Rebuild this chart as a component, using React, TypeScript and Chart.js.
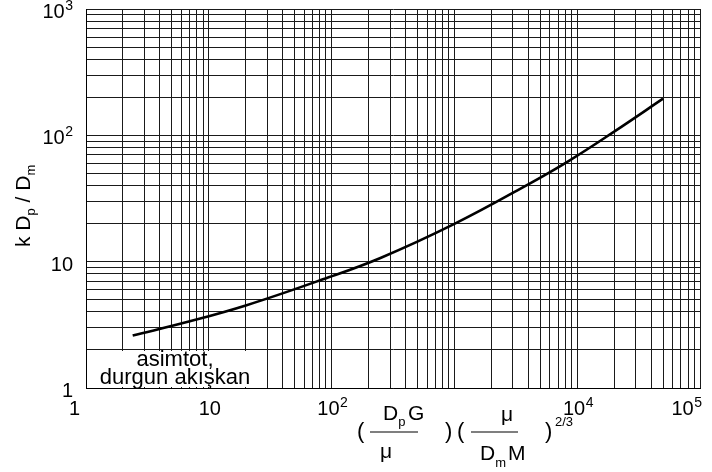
import React, { useEffect, useRef } from "react";
import { Chart, registerables } from "chart.js";

Chart.register(...registerables);

// Correlation curve: k·Dp/Dm against (Dp·G/μ)(μ/(Dm·M))^(2/3)
const xValues = [2.4, 7, 20, 85, 250, 1000, 4100, 8700, 20000, 50000];
const kValues = [2.6, 3.37, 4.5, 7.25, 10.7, 19.9, 41.5, 63.4, 107, 195];

const xMin = 1;
const xMax = 1e5;
const yMin = 1;
const yMax = 1e3;

// Axis labels: [mantissa, exponent]
const xTickValues = [1, 10, 100, 10000, 100000];
const xTickLabels = [["1", ""], ["10", ""], ["10", "2"], ["10", "4"], ["10", "5"]];
const yTickValues = [1, 10, 100, 1000];
const yTickLabels = [["1", ""], ["10", ""], ["10", "2"], ["10", "3"]];

// Stagnant-fluid asymptote and its note
const asymptoteValue = 2;
const noteLines = ["asimtot,", "durgun akışkan"];

const FAMILY = '"Liberation Sans", Arial, Helvetica, sans-serif';
const font = (px: number) => `${px}px ${FAMILY}`;

// every 1..9 × 10^n between min and max, for the log grid
function logGrid(min: number, max: number) {
  const out: { value: number }[] = [];
  for (let e = Math.round(Math.log10(min)); e < Math.round(Math.log10(max)); e++) {
    for (let s = 1; s <= 9; s++) out.push({ value: s * Math.pow(10, e) });
  }
  out.push({ value: max });
  return out;
}

type Run = { t: string; size: number; dy?: number; gap?: number };

// draws a sequence of text runs left-to-right from (x, y baseline)
function drawRuns(ctx: CanvasRenderingContext2D, runs: Run[], x: number, y: number) {
  let cx = x;
  for (const r of runs) {
    cx += r.gap || 0;
    ctx.font = font(r.size);
    ctx.fillText(r.t, cx, y + (r.dy || 0));
    cx += ctx.measureText(r.t).width;
  }
  return cx;
}

function drawPower(
  ctx: CanvasRenderingContext2D,
  base: string,
  exp: string,
  x: number,
  y: number,
  align: "left" | "center" | "right"
) {
  ctx.font = font(20);
  const wb = ctx.measureText(base).width;
  ctx.font = font(14);
  const we = exp ? ctx.measureText(exp).width + 0.5 : 0;
  const total = wb + we;
  const left = align === "right" ? x - total : align === "center" ? x - total / 2 : x;
  ctx.font = font(20);
  ctx.fillText(base, left, y);
  if (exp) {
    ctx.font = font(14);
    ctx.fillText(exp, left + wb + 0.5, y - 8);
  }
}

const annotations = {
  id: "annotations",
  beforeDatasetsDraw(chart: any) {
    const { ctx, chartArea, scales } = chart;
    const yTop = scales.y.getPixelForValue(asymptoteValue);
    ctx.save();
    // clear the grid behind the note
    ctx.fillStyle = "#ffffff";
    const boxRight = chartArea.left + 171;
    ctx.fillRect(chartArea.left + 1, yTop + 1, boxRight - chartArea.left - 1, chartArea.bottom - yTop - 2);
    ctx.fillStyle = "#000000";
    ctx.textAlign = "center";
    ctx.textBaseline = "alphabetic";
    ctx.font = font(22);
    const cx = chartArea.left + 89;
    ctx.fillText(noteLines[0], cx, chartArea.bottom - 22);
    ctx.fillText(noteLines[1], cx, chartArea.bottom - 3.6);
    ctx.restore();
  },
  afterDraw(chart: any) {
    const { ctx, chartArea, scales } = chart;
    ctx.save();
    ctx.fillStyle = "#000000";
    ctx.textBaseline = "alphabetic";
    ctx.textAlign = "left";

    // y tick labels
    yTickValues.forEach((v, i) => {
      const py = scales.y.getPixelForValue(v);
      drawPower(ctx, yTickLabels[i][0], yTickLabels[i][1], chartArea.left - 13, py + 9, "right");
    });

    // x tick labels
    const xBase = chartArea.bottom + 27;
    xTickValues.forEach((v, i) => {
      const px = scales.x.getPixelForValue(v);
      const [b, e] = xTickLabels[i];
      if (i === 0) drawPower(ctx, b, e, px - 6, xBase, "right");
      else if (i === xTickValues.length - 1) drawPower(ctx, b, e, px + 2, xBase, "right");
      else drawPower(ctx, b, e, px + 1, xBase, "center");
    });

    // x axis title: ( Dp G / μ ) ( μ / Dm M )^(2/3)
    const barY = 431.5;
    ctx.font = font(22);
    ctx.fillText("(", 357, 438);
    ctx.fillText(")", 445, 438);
    ctx.fillText("(", 457, 438);
    ctx.fillText(")", 545, 438);
    ctx.fillRect(370, barY, 48, 1);
    ctx.fillRect(471, barY, 47, 1);
    drawRuns(ctx, [
      { t: "D", size: 21 },
      { t: "p", size: 13, dy: 6.3 },
      { t: "G", size: 21, gap: 2.5 },
    ], 383, 420);
    drawRuns(ctx, [{ t: "μ", size: 21 }], 380, 457.5);
    drawRuns(ctx, [{ t: "μ", size: 21 }], 501, 421);
    drawRuns(ctx, [
      { t: "D", size: 21 },
      { t: "m", size: 13, dy: 6.5 },
      { t: "M", size: 21, gap: 2 },
    ], 480, 460);
    drawRuns(ctx, [{ t: "2/3", size: 13 }], 555, 426);

    // y axis title: k Dp / Dm (rotated)
    ctx.translate(30, 247);
    ctx.rotate(-Math.PI / 2);
    drawRuns(ctx, [
      { t: "k D", size: 21 },
      { t: "p", size: 13, dy: 5 },
      { t: " / D", size: 21 },
      { t: "m", size: 13, dy: 5 },
    ], 0, 0);
    ctx.restore();
  },
};

export default function App() {
  const canvasRef = useRef<HTMLCanvasElement | null>(null);

  useEffect(() => {
    const canvas = canvasRef.current;
    if (!canvas) return;
    const gridColor = "#1a1a1a";
    const chart = new Chart(canvas, {
      type: "line",
      data: {
        datasets: [
          {
            data: xValues.map((x, i) => ({ x, y: kValues[i] })),
            borderColor: "#000000",
            borderWidth: 2.6,
            pointRadius: 0,
            fill: false,
            tension: 0.4,
            borderCapStyle: "butt",
          },
        ],
      },
      options: {
        responsive: false,
        animation: false,
        devicePixelRatio: 1,
        layout: { padding: { left: 86, right: 12, top: 9, bottom: 84 } },
        plugins: { legend: { display: false }, tooltip: { enabled: false } },
        scales: {
          x: {
            type: "logarithmic",
            min: xMin,
            max: xMax,
            afterBuildTicks: (scale: any) => {
              scale.ticks = logGrid(xMin, xMax);
            },
            ticks: { display: false },
            grid: { color: gridColor, lineWidth: 1, drawTicks: false },
            border: { display: true, color: "#000000", width: 1 },
          },
          y: {
            type: "logarithmic",
            min: yMin,
            max: yMax,
            afterBuildTicks: (scale: any) => {
              scale.ticks = logGrid(yMin, yMax);
            },
            ticks: { display: false },
            grid: { color: gridColor, lineWidth: 1, drawTicks: false },
            border: { display: true, color: "#000000", width: 1 },
          },
        },
      },
      plugins: [annotations],
    } as any);
    return () => chart.destroy();
  }, []);

  return (
    <div style={{ position: "fixed", left: 0, top: 0, width: 712, height: 472, background: "#ffffff" }}>
      <canvas ref={canvasRef} width={712} height={472} style={{ display: "block" }} />
    </div>
  );
}
